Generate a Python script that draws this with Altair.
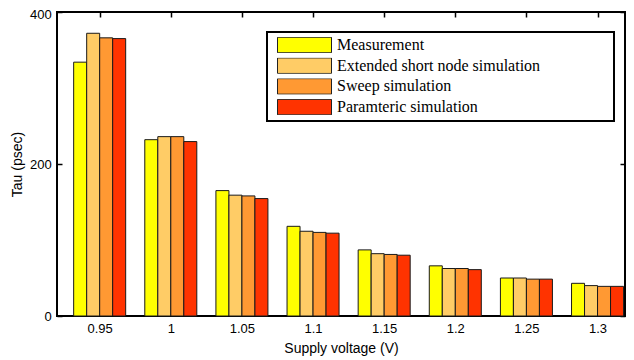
import altair as alt
import pandas as pd

voltages = [0.95, 1.0, 1.05, 1.1, 1.15, 1.2, 1.25, 1.3]
series = ["Measurement", "Extended short node simulation", "Sweep simulation", "Paramteric simulation"]
measurement = [334, 232, 165, 118, 87, 66, 50, 43]
extended_short_node = [372, 236, 159, 111.5, 82, 62.5, 50, 40]
sweep = [366, 236, 158, 110, 81, 62.5, 48.5, 39]
parametric = [365, 229.5, 154.5, 109, 80, 61, 48.5, 39]
colors = ["#FFFF00", "#FFCC66", "#FF9933", "#FF3300"]
x_ticks = [0.95, 1.0, 1.05, 1.1, 1.15, 1.2, 1.25, 1.3]
y_ticks = [0, 200, 400]

rows = []
for k, (name, vals) in enumerate(zip(series, [measurement, extended_short_node, sweep, parametric])):
    for v, t in zip(voltages, vals):
        rows.append({"voltage": v, "series": name, "k": k, "tau": t})
df = pd.DataFrame(rows)

BW = 0.00914
xscale = alt.Scale(domain=[0.92, 1.3193], nice=False, zero=False)
yscale = alt.Scale(domain=[0, 400], nice=False)

base = alt.Chart(df).transform_calculate(
    xa=f"datum.voltage + (datum.k - 2) * {BW}",
    xb=f"datum.voltage + (datum.k - 1) * {BW}",
)

pad_text = "\u00a0" * 17 + "\u200b"

bars = base.mark_bar(stroke="#1a1a1a", strokeWidth=1).encode(
    x=alt.X("xa:Q", scale=xscale, title="Supply voltage (V)",
            axis=alt.Axis(orient="bottom", values=x_ticks, format="~g", ticks=False,
                          domain=False, labelPadding=6, titlePadding=6)),
    x2="xb:Q",
    y=alt.Y("tau:Q", scale=yscale, title="Tau (psec)",
            axis=alt.Axis(orient="left", values=y_ticks, offset=-5, tickSize=5,
                          tickWidth=1.5, domain=False, labelPadding=5.7, titlePadding=5,
                          labelOffset={"condition": {"test": "datum.value == 400", "value": 2.5},
                                       "value": 0})),
    y2=alt.datum(0),
    color=alt.Color("series:N", scale=alt.Scale(domain=series, range=colors),
                    legend=alt.Legend(title=None, orient="none", legendX=210, legendY=20,
                                      symbolType="M-1,-0.287H1V0.287H-1Z", symbolSize=2916,
                                      symbolStrokeColor="#222222", symbolStrokeWidth=1,
                                      clipHeight=16, rowPadding=4.7, padding=5,
                                      symbolOffset=5, labelOffset=5,
                                      labelFont="Liberation Serif", labelFontSize=16,
                                      labelColor="black", labelLimit=500,
                                      strokeColor="black", fillColor="white",
                                      labelExpr="datum.label + '" + pad_text + "'")),
)

frame = base.mark_bar(opacity=0).encode(
    x=alt.X("xa:Q", scale=xscale, title=None,
            axis=alt.Axis(orient="top", values=x_ticks, offset=-5, tickSize=5, tickWidth=1.5,
                          labels=False, domain=False)),
    x2="xb:Q",
    y=alt.Y("tau:Q", scale=yscale, title=None,
            axis=alt.Axis(orient="right", values=y_ticks, offset=-5, tickSize=5, tickWidth=1.5,
                          labels=False, domain=False)),
    y2=alt.datum(0),
)

chart = alt.layer(bars, frame).resolve_axis(x="independent", y="independent").properties(
    width=568, height=304,
    autosize=alt.AutoSizeParams(type="none"),
    padding={"left": 49, "top": 4, "right": 1, "bottom": 40},
).configure_view(stroke="black", strokeWidth=2).configure_axis(
    labelFont="Liberation Sans", titleFont="Liberation Sans", labelFontSize=13,
    titleFontSize=14, titleFontWeight="normal", labelColor="black", titleColor="black",
    tickColor="black", grid=False,
).configure_legend(strokeWidth=2)

chart.save("out.html", embed_options={"renderer": "svg", "actions": False})
